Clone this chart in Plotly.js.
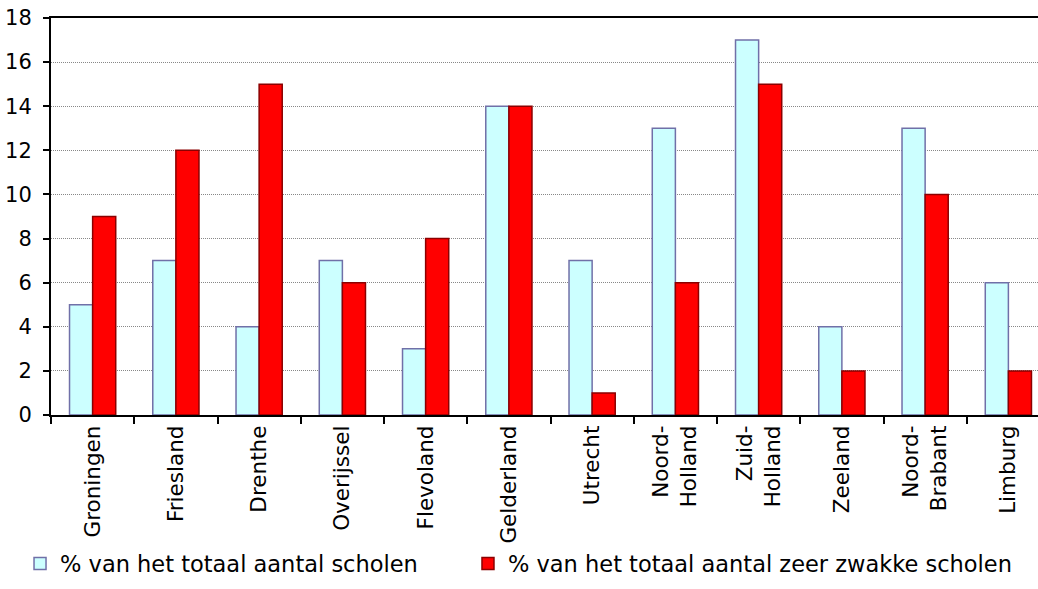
<!DOCTYPE html>
<html>
<head>
<meta charset="utf-8">
<script src="https://cdn.plot.ly/plotly-3.0.1.min.js"></script>
<style>
html, body { margin:0; padding:0; overflow:hidden; background:#fff; width:1038px; height:589px; }
#chart { width:1064px; height:589px; }
</style>
</head>
<body>
<div id="chart"></div>
<script>
const categories = ["Groningen", "Friesland", "Drenthe", "Overijssel", "Flevoland", "Gelderland", "Utrecht", "Noord-<br>Holland", "Zuid-<br>Holland", "Zeeland", "Noord-<br>Brabant", "Limburg"];
const totaalScholen = [5, 7, 4, 7, 3, 14, 7, 13, 17, 4, 13, 6];
const zeerZwakkeScholen = [9, 12, 15, 6, 8, 14, 1, 6, 15, 2, 10, 2];
const seriesNames = ["% van het totaal aantal scholen", "% van het totaal aantal zeer zwakke scholen"];
const yTicks = [0, 2, 4, 6, 8, 10, 12, 14, 16, 18];

const font = "DejaVu Sans, Verdana, sans-serif";

const traces = [
  { type: "bar", x: categories, y: totaalScholen, name: seriesNames[0], legend: "legend",
    marker: { color: "#CCFFFF", line: { color: "#7070A8", width: 1.5 } } },
  { type: "bar", x: categories, y: zeerZwakkeScholen, name: seriesNames[1], legend: "legend2",
    marker: { color: "#FF0000", line: { color: "#8B0000", width: 1.5 } } }
];

const legendBase = { orientation: "h", xanchor: "left", y: -0.375, yanchor: "middle",
  font: { family: font, size: 22.5, color: "#000" }, itemwidth: 30,
  borderwidth: 0, bgcolor: "rgba(0,0,0,0)" };

const layout = {
  width: 1064, height: 589,
  margin: { l: 51, r: 14, t: 18, b: 174, autoexpand: false },
  paper_bgcolor: "#fff", plot_bgcolor: "#fff",
  barmode: "group", bargap: 0.445, bargroupgap: 0,
  font: { family: font, size: 21, color: "#000" },
  showlegend: true,
  legend: Object.assign({}, legendBase, { x: -0.031 }),
  legend2: Object.assign({}, legendBase, { x: 0.4174 }),
  xaxis: { type: "category", tickangle: -90, tickson: "boundaries", ticks: "outside",
           ticklen: 7, tickwidth: 2, tickcolor: "#000", showline: true, linecolor: "#000",
           linewidth: 2, mirror: true, showgrid: false, automargin: false,
           tickfont: { family: font, size: 21.5, color: "#000" } },
  yaxis: { range: [0, 18], tickvals: yTicks, ticktext: yTicks.map(String), ticks: "outside",
           ticklen: 6, tickwidth: 2, tickcolor: "#000", showline: true, linecolor: "#000",
           linewidth: 2, mirror: false, showgrid: true, gridcolor: "#888", gridwidth: 1,
           griddash: "1px,1px", zeroline: false, automargin: false, ticklabelstandoff: 7,
           tickfont: { family: font, size: 21, color: "#000" } }
};

Plotly.newPlot("chart", traces, layout, { displayModeBar: false, staticPlot: true });
</script>
</body>
</html>
